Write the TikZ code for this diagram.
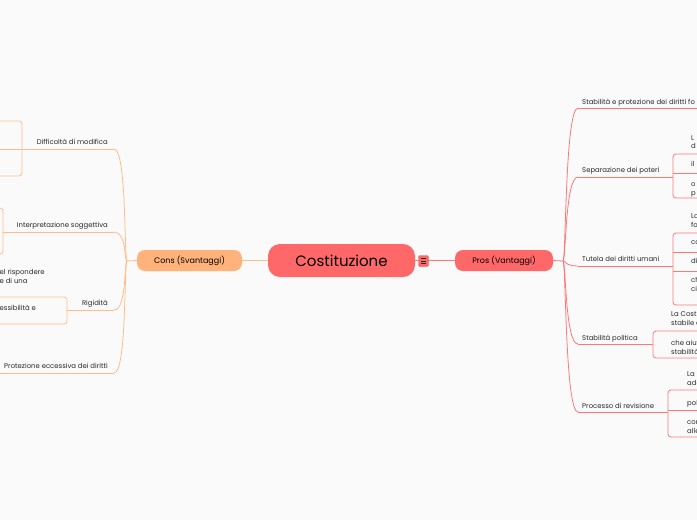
\documentclass[tikz,border=0pt]{standalone}
\usepackage{fontspec}
\setmainfont{Poppins}
\usetikzlibrary{positioning}
\definecolor{coral}{RGB}{255,104,104}
\definecolor{proline}{RGB}{255,120,120}
\definecolor{apricot}{RGB}{255,178,122}
\definecolor{conline}{RGB}{255,188,140}
\definecolor{ink}{RGB}{40,40,40}
\definecolor{paper}{RGB}{250,250,250}

\begin{document}
\begin{tikzpicture}[
      x=1pt, y=-1pt,
      topic/.style={fill=coral, rounded corners=12pt, minimum width=147pt, minimum height=33pt,
        font=\fontsize{15}{15}\selectfont, text=black},
      branch/.style={rounded corners=8pt, minimum height=21pt, font=\fontsize{8}{8}\selectfont, text=black},
      sub/.style={inner sep=0pt, font=\fontsize{6.9}{7}\selectfont, text=ink},
      leaf/.style={inner sep=0pt, anchor=base west, font=\fontsize{6.9}{7}\selectfont, text=ink},
      proedge/.style={draw=proline, line width=0.8pt},
      conedge/.style={draw=conline, line width=0.8pt}
  ]
    \useasboundingbox (0,0) rectangle (697,520);
    \fill[paper] (0,0) rectangle (697,520);
    \clip (0,0) rectangle (697,520);

    % --- Central topic and the two main branches ---
    \node[topic] (costituzione) at (341.5,260.5) {Costituzione};
    \node[branch, fill=coral, minimum width=98pt] (pros) at (504,260.5) {Pros (Vantaggi)};
    \node[branch, fill=apricot, minimum width=105pt] (cons) at (189.5,260.5) {Cons (Svantaggi)};
    \draw[proedge] (costituzione.east) -- (pros.west);
    \draw[conedge] (costituzione.west) -- (cons.east);
    \node[fill=coral, draw=coral!85!black, rounded corners=1.5pt, inner sep=0pt,
          minimum width=10pt, minimum height=11pt] (toggle) at (423.5,261) {};
    \foreach \dy in {-2.3,0,2.3} {
      \draw[ink, line width=0.7pt] ([xshift=-2.6pt,yshift=\dy pt]toggle.center) -- ++(5.2,0);
    }

    % --- Pros: sub-topics on the right ---
    \coordinate (rj) at (563,261);
    \draw[proedge] (pros.east) -- (rj);
    \coordinate (u1) at (578,108);
    \coordinate (u2) at (578,177);
    \coordinate (u3) at (578,266);
    \coordinate (u4) at (578,344);
    \coordinate (u5) at (578,412);
    \foreach \u in {u1,u2,u3,u4,u5} {
      \draw[proedge] (rj) .. controls +(3,0) and +(-13,0) .. (\u);
    }
    \node[sub, anchor=base west] (stab) at (582,104) {Stabilità e protezione dei diritti fo};
    \node[sub, anchor=base west] (sep) at (582,172) {Separazione dei poteri};
    \node[sub, anchor=base west] (tutela) at (582,261) {Tutela dei diritti umani};
    \node[sub, anchor=base west] (polit) at (582,340) {Stabilità politica};
    \node[sub, anchor=base west] (rev) at (582,408) {Processo di revisione};

    % underlines and brackets
    \coordinate (b2) at (673,177);
    \coordinate (b3) at (673,266);
    \coordinate (b4) at (653,344);
    \coordinate (b5) at (668,412);
    \draw[proedge] (u1) -- (700,108);
    \draw[proedge] (u2) -- (b2);
    \draw[proedge] (u3) -- (b3);
    \draw[proedge] (u4) -- (b4);
    \draw[proedge] (u5) -- (b5);
    \draw[proedge, rounded corners=3pt] (700,154) -- (673,154) -- (673,198) -- (700,198);
    \draw[proedge] (673,173) -- (700,173);
    \draw[proedge, rounded corners=3pt] (700,233) -- (673,233) -- (673,305) -- (700,305);
    \draw[proedge] (673,252) -- (700,252);
    \draw[proedge] (673,271) -- (700,271);
    \draw[proedge, rounded corners=3pt] (700,331) -- (653,331) -- (653,358) -- (700,358);
    \draw[proedge, rounded corners=3pt] (700,390) -- (668,390) -- (668,437) -- (700,437);
    \draw[proedge] (668,410) -- (700,410);

    % leaves (cut at the right edge)
    \foreach \t/\yy [count=\i] in {L/140.5, d/148.5, il/166.5, o/186.5, p/195.5} {
      \node[leaf] (sepl\i) at (691,\yy) {\t};
    }
    \foreach \t/\yy [count=\i] in {La/218.5, fo/227.5, co/244.5, di/263.5, ch/282.5, ci/291.5} {
      \node[leaf] (tutl\i) at (691,\yy) {\t};
    }
    \foreach \t/\yy [count=\i] in {La Cost/316.5, stabile e/325.5, che aiut/345.5, stabilità/354.5} {
      \node[leaf] (poll\i) at (671,\yy) {\t};
    }
    \foreach \t/\yy [count=\i] in {La/376.5, ade/385.5, pol/405.5, con/424.5, alle/433.5} {
      \node[leaf] (revl\i) at (687,\yy) {\t};
    }

    % --- Cons: sub-topics on the left ---
    \coordinate (lj) at (127,261);
    \draw[conedge] (cons.west) -- (lj);
    \coordinate (v1) at (114,149);
    \coordinate (v2) at (114,232);
    \coordinate (v3) at (114,310);
    \coordinate (v4) at (114,373);
    \foreach \v in {v1,v2,v3,v4} {
      \draw[conedge] (lj) .. controls +(-3,0) and +(13,0) .. (\v);
    }
    \node[sub, anchor=base east] (diff) at (108,144.5) {Difficoltà di modifica};
    \node[sub, anchor=base east] (interp) at (108,227) {Interpretazione soggettiva};
    \node[sub, anchor=base east] (rigid) at (108,305.5) {Rigidità};
    \node[sub, anchor=base east] (eccess) at (108,368) {Protezione eccessiva dei diritti};

    % underlines and brackets
    \draw[conedge] (v1) -- (22,149);
    \draw[conedge] (v2) -- (3,232);
    \draw[conedge] (v3) -- (67,310);
    \draw[conedge] (v4) -- (-5,373);
    \draw[conedge, rounded corners=3pt] (-5,121) -- (22,121) -- (22,176) -- (-5,176);
    \draw[conedge] (22,149) -- (-5,149);
    \draw[conedge, rounded corners=3pt] (-5,208) -- (3,208) -- (3,254) -- (-5,254);
    \draw[conedge, rounded corners=3pt] (-5,297) -- (67,297) -- (67,324) -- (-5,324);

    % leaves (cut at the left edge)
    \node[leaf] (rigl1) at (-0.5,274.5) {el rispondere};
    \node[leaf] (rigl2) at (-0.5,283.5) {e di una};
    \node[leaf] (rigl3) at (-0.5,310.5) {essibilità e};

  \end{tikzpicture}
\end{document}
